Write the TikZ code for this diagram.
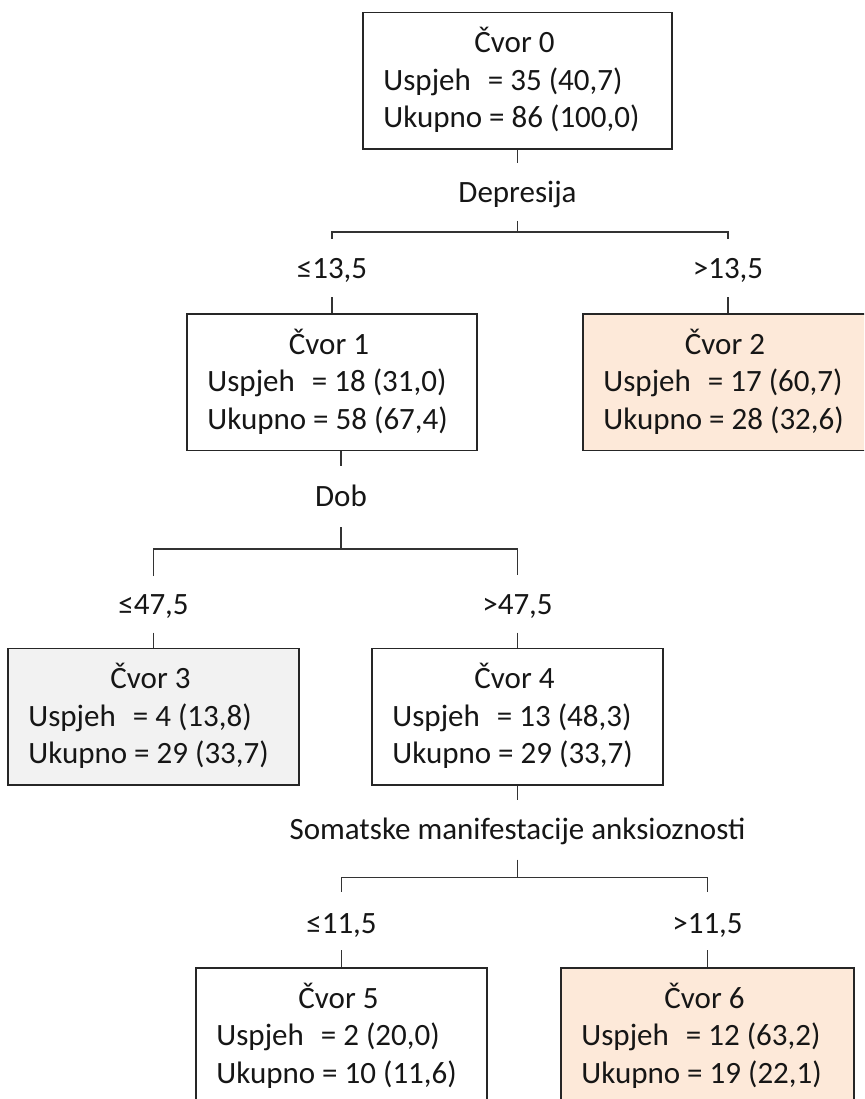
\documentclass[tikz,border=0pt]{standalone}
\usepackage{fontspec}
\setmainfont{Carlito}
\usetikzlibrary{calc}
\definecolor{peach}{HTML}{FDE9D9}
\definecolor{lgray}{HTML}{F2F2F2}
\definecolor{ink}{HTML}{161616}
\newcommand\tnode[8]{%
  \node[box, fill=#5, minimum width=#4] (#1) at (#2,#3) {};
  \node[lbl] (#1c) at ($(#1.north)+(-3,41)$) {Čvor #6};
  \node[lbl, anchor=base west] (#1u) at ($(#1.north west)+(21,78.5)$) {Uspjeh\hspace{0.55em}= #7};
  \node[lbl, anchor=base west] (#1k) at ($(#1.north west)+(21,116)$) {Ukupno = #8};
}
\begin{document}
\begin{tikzpicture}[x=1pt,y=-1pt,
  box/.style={draw=black!85, line width=1.5pt, minimum height=136.5pt, inner sep=0pt, anchor=north},
  conn/.style={draw=black!80, line width=1.6pt},
  lbl/.style={font=\fontsize{31}{37}\selectfont, text=ink, inner sep=0pt, anchor=base},
]
\path[use as bounding box, clip] (0,0) rectangle (864,1099);
\fill[white] (0,0) rectangle (864,1099);

% tree nodes
\tnode{n0}{517.5}{12}{309}{white}{0}{35 (40,7)}{86 (100,0)}
\tnode{n1}{332}{313}{290}{white}{1}{18 (31,0)}{58 (67,4)}
\tnode{n2}{728}{313}{290}{peach}{2}{17 (60,7)}{28 (32,6)}
\tnode{n3}{153.5}{647.5}{291}{lgray}{3}{4 (13,8)}{29 (33,7)}
\tnode{n4}{517.5}{647.5}{291}{white}{4}{13 (48,3)}{29 (33,7)}
\tnode{n5}{341.5}{967}{291}{white}{5}{2 (20,0)}{10 (11,6)}
\tnode{n6}{707.5}{967}{293}{peach}{6}{12 (63,2)}{19 (22,1)}

% ---- split of node 0
\coordinate (o0) at (n0.south);
\coordinate (o0e) at ($(o0)+(0,13)$);
\draw[conn] (o0) -- (o0e);
\node[lbl] (v0) at ($(o0)+(0,53)$) {Depresija};
\coordinate (t0) at ($(o0)+(0,71)$);
\coordinate (b0) at ($(o0)+(0,82)$);
\draw[conn] (t0) -- (b0);
\coordinate (b0l) at (n1.north |- b0);
\coordinate (b0r) at (n2.north |- b0);
\draw[conn] ($(b0l)+(0,7)$) -- (b0l) -- (b0r) -- ($(b0r)+(0,7)$);
\node[lbl] (c1) at ($(b0l)+(0,46)$) {≤13,5};
\node[lbl] (c2) at ($(b0r)+(0,46)$) {>13,5};
\draw[conn] ($(n1.north)+(0,-16)$) -- (n1.north);
\draw[conn] ($(n2.north)+(0,-16)$) -- (n2.north);

% ---- split of node 1
\coordinate (o1) at ($(n1.south)+(9,0)$);
\coordinate (o1e) at ($(o1)+(0,15)$);
\draw[conn] (o1) -- (o1e);
\node[lbl] (v1) at ($(o1)+(0,55)$) {Dob};
\coordinate (t1) at ($(o1)+(0,76)$);
\coordinate (b1) at ($(o1)+(0,98)$);
\draw[conn] (t1) -- (b1);
\coordinate (b1l) at (n3.north |- b1);
\coordinate (b1r) at (n4.north |- b1);
\draw[conn] ($(b1l)+(0,27)$) -- (b1l) -- (b1r) -- ($(b1r)+(0,26)$);
\node[lbl] (c3) at ($(b1l)+(0,65)$) {≤47,5};
\node[lbl] (c4) at ($(b1r)+(0,65)$) {>47,5};
\draw[conn] ($(n3.north)+(0,-15)$) -- (n3.north);
\draw[conn] ($(n4.north)+(0,-15)$) -- (n4.north);

% ---- split of node 4
\coordinate (o4) at (n4.south);
\coordinate (o4e) at ($(o4)+(0,14)$);
\draw[conn] (o4) -- (o4e);
\node[lbl] (v4) at ($(o4)+(0,54)$) {Somatske manifestacije anksioznosti};
\coordinate (t4) at ($(o4)+(0,74)$);
\coordinate (b4) at ($(o4)+(0,92)$);
\draw[conn] (t4) -- (b4);
\coordinate (b4l) at (n5.north |- b4);
\coordinate (b4r) at (n6.north |- b4);
\draw[conn] ($(b4l)+(0,14)$) -- (b4l) -- (b4r) -- ($(b4r)+(0,14)$);
\node[lbl] (c5) at ($(b4l)+(0,56)$) {≤11,5};
\node[lbl] (c6) at ($(b4r)+(0,56)$) {>11,5};
\draw[conn] ($(n5.north)+(0,-17)$) -- (n5.north);
\draw[conn] ($(n6.north)+(0,-17)$) -- (n6.north);
\end{tikzpicture}
\end{document}
